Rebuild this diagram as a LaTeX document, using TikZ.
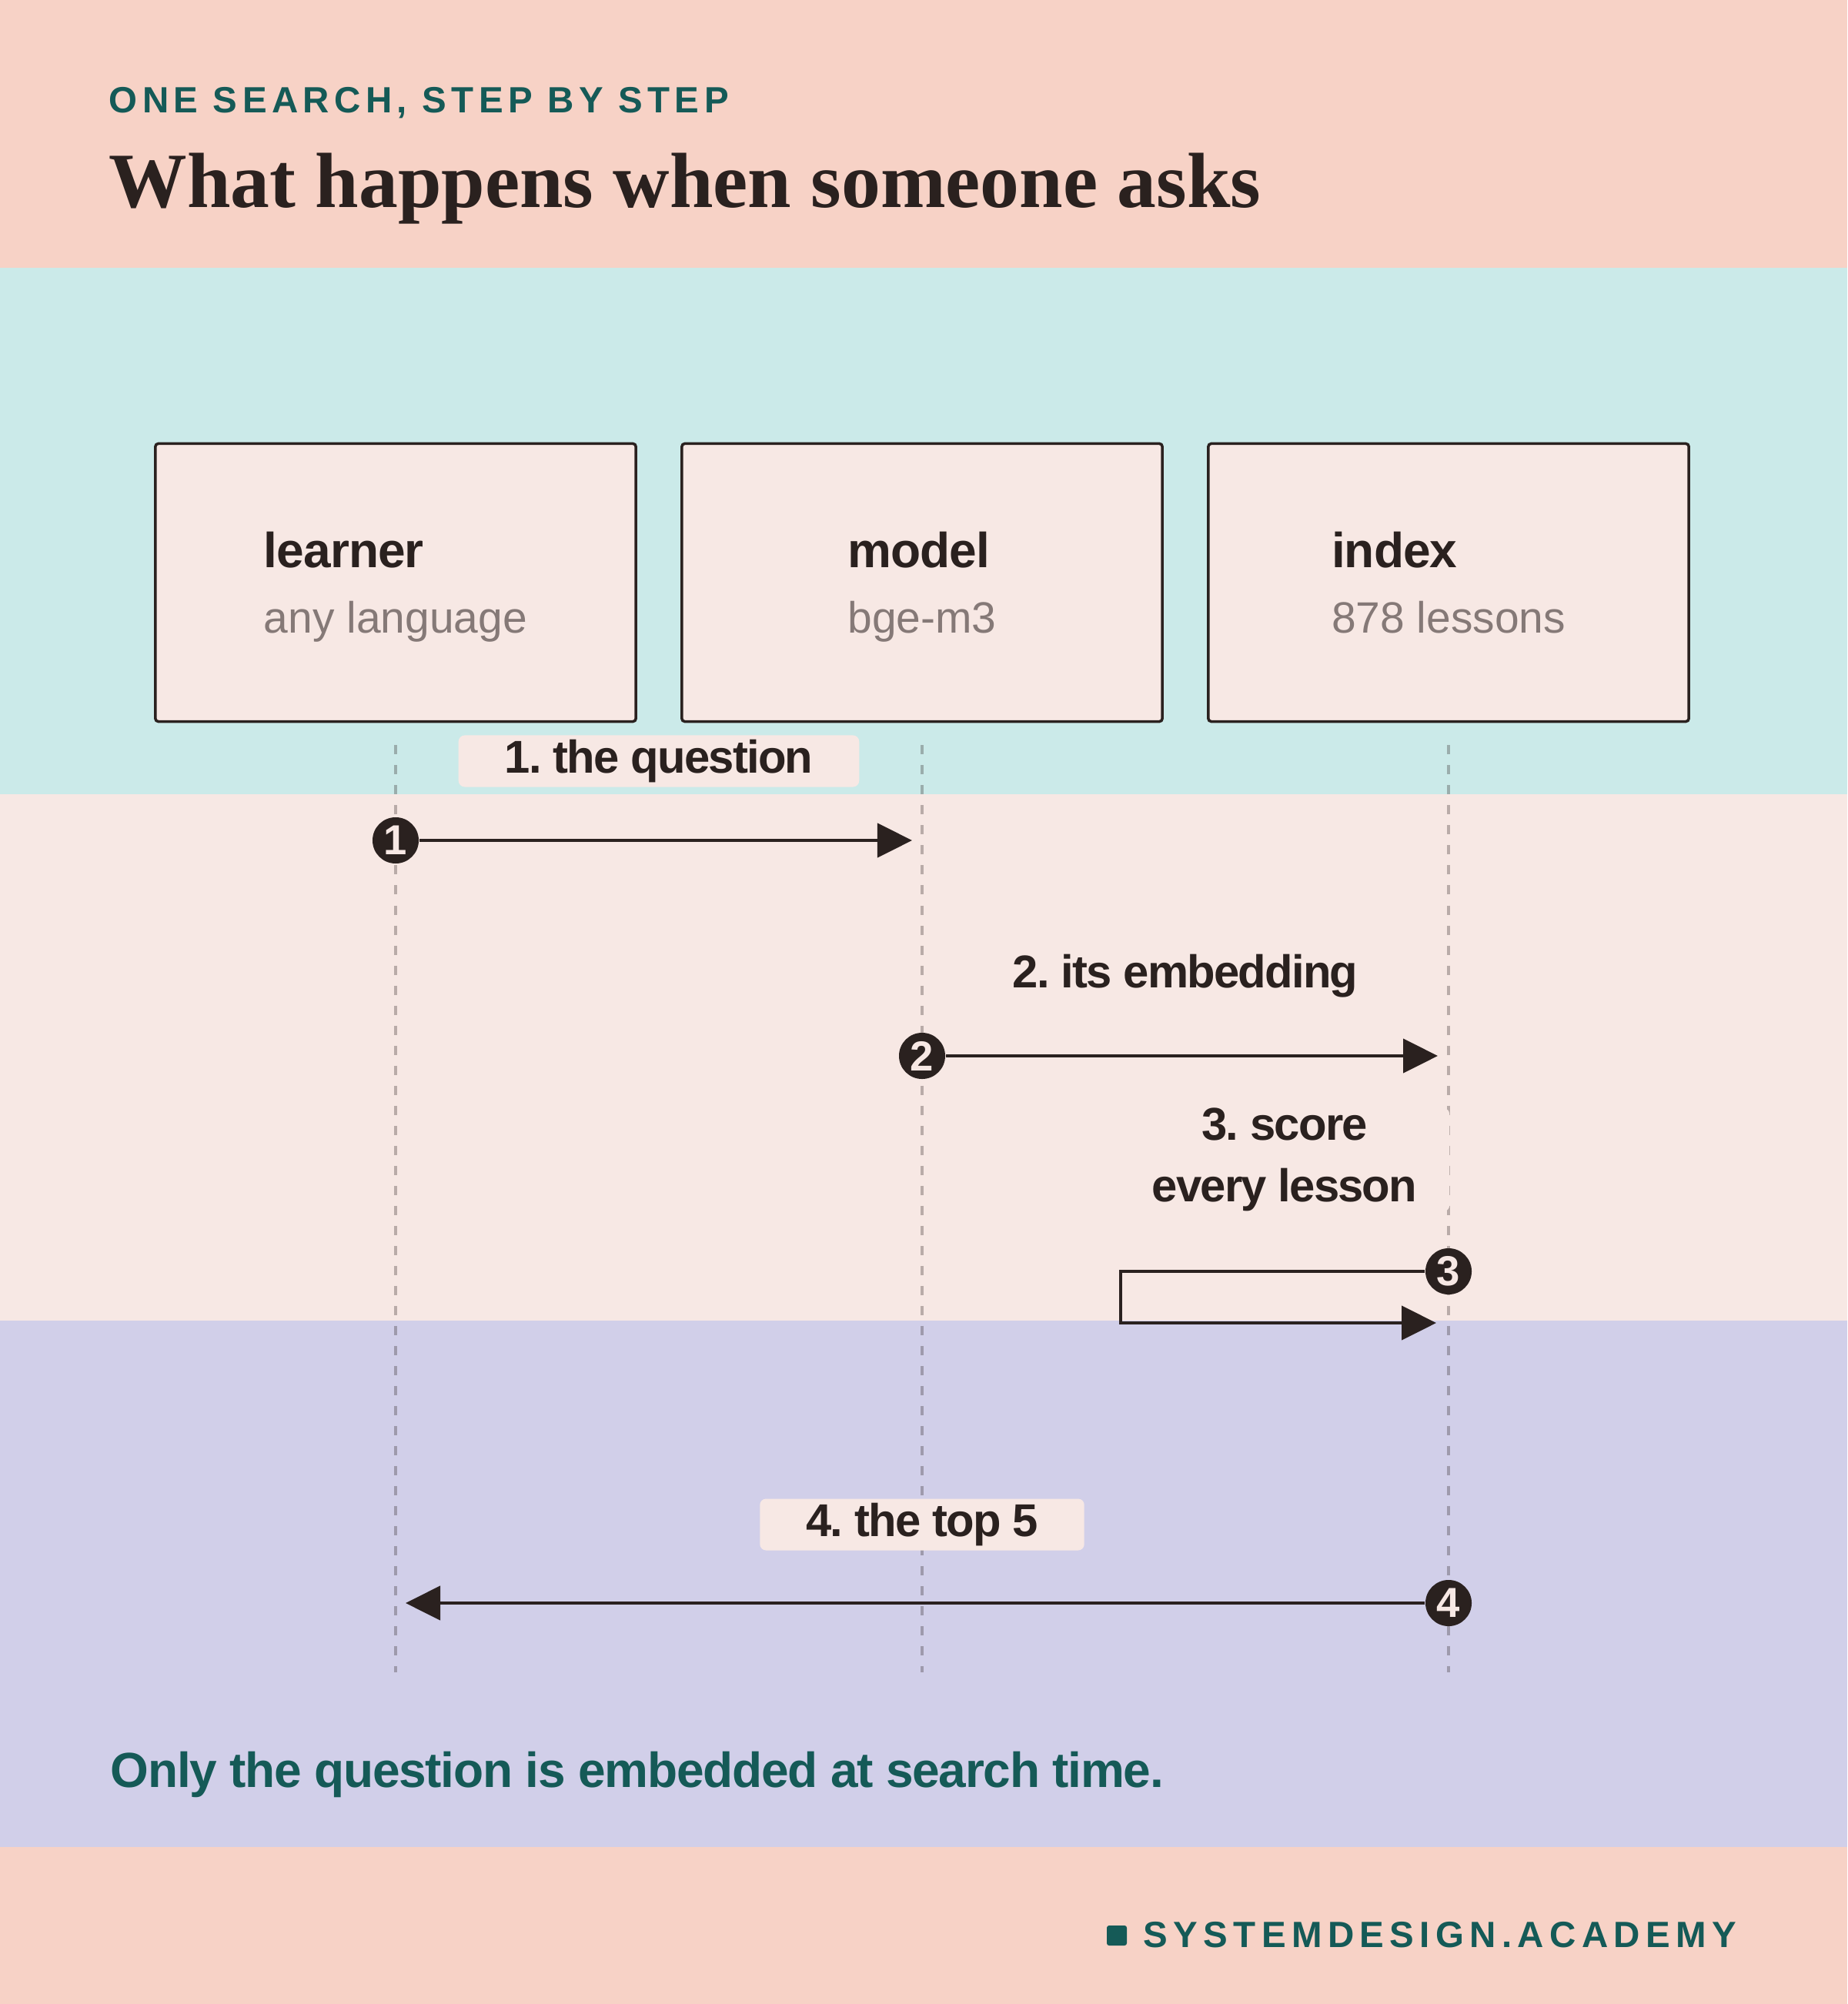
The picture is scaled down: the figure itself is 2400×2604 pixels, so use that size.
\documentclass[tikz,border=0pt]{standalone}
\usepackage{fontspec}
\setmainfont{Liberation Sans}
\newfontfamily\titlefont{Liberation Serif}
\usetikzlibrary{arrows.meta}

\definecolor{hdr}{HTML}{F7D2C6}
\definecolor{band1}{HTML}{CBEAE9}
\definecolor{band2}{HTML}{F7E8E4}
\definecolor{band3}{HTML}{D1CFE9}
\definecolor{ink}{HTML}{2A211F}
\definecolor{deepteal}{HTML}{155A57}
\definecolor{sub}{HTML}{857977}

\tikzset{
  actor/.style={draw=ink, line width=1pt, fill=band2, rounded corners=0.04cm,
    minimum width=6.24cm, minimum height=3.61cm, align=left, text=ink, text depth=0pt,
    font=\fontsize{16.2}{24.2}\selectfont},
  life/.style={draw=ink, draw opacity=0.3, line width=0.9pt, dash pattern=on 0.12cm off 0.14cm},
  msglabel/.style={fill=band2, rounded corners=0.08cm, inner xsep=0.6cm, inner ysep=0pt,
    minimum height=0.67cm, text=ink, align=center,
    font=\fontsize{17}{22.8}\selectfont\bfseries\addfontfeature{LetterSpace=-3}},
  badge/.style={circle, fill=ink, text=band2, minimum size=0.6cm, inner sep=0pt,
    font=\fontsize{15.5}{16}\selectfont\bfseries},
  msg/.style={draw=ink, line width=1.25pt, -{Triangle[length=0.45cm,width=0.44cm]}},
  plain/.style={anchor=base west, inner sep=0pt}
}

\begin{document}
\begin{tikzpicture}[x=0.01cm, y=-0.01cm]
  \useasboundingbox (0,0) rectangle (2400,2604);

  \foreach \c/\a/\b in {hdr/0/348, band1/348/1032, band2/1032/1716, band3/1716/2400, hdr/2400/2604}
    \fill[\c] (0,\a) rectangle (2400,\b);

  \node[plain, text=deepteal, font=\fontsize{13.5}{16}\selectfont\bfseries\addfontfeature{LetterSpace=13.5}]
    (kicker) at (141,147) {ONE SEARCH, STEP BY STEP};
  \node[plain, text=ink, font=\titlefont\fontsize{28.9}{34}\selectfont\bfseries]
    (title) at (141,270) {What happens when someone asks};

  \coordinate (foot) at (0,2173);

  \foreach \n/\x/\s in {learner/514/any language, model/1198/bge-m3, index/1882/878 lessons} {
    \node[actor] (\n) at (\x,757)
      {{\fontsize{18.2}{24.2}\selectfont\bfseries\addfontfeature{LetterSpace=-1.5}\n}\\{\color{sub}\s}};
    \draw[life] ([yshift=-0.29cm]\n.south) -- (\n.south |- foot);
  }

  \node[msglabel] (l1) at (856,989) {1.\hspace{-0.08em} the question};
  \node[msglabel] (l2) at (1540,1268) {2.\hspace{-0.08em} its embedding};
  \node[msglabel, inner xsep=0.42cm] (l3) at (1669,1507) {3.\hspace{-0.08em} score\\every lesson};
  \node[msglabel] (l4) at (1198,1981) {4.\hspace{-0.08em} the top 5};

  \node[badge] (c1) at (514,1092) {1};
  \node[badge] (c2) at (1198,1372) {2};
  \node[badge] (c3) at (1882,1652) {3};
  \node[badge] (c4) at (1882,2083) {4};

  \coordinate (t1) at (1185,1092);
  \coordinate (t2) at (1868,1372);
  \coordinate (k3) at (1456,1719);
  \coordinate (t3) at (1866,1719);
  \coordinate (t4) at (527,2083);

  \draw[msg] (c1) -- (t1);
  \draw[msg] (c2) -- (t2);
  \draw[msg] (c3) -| (k3) -- (t3);
  \draw[msg] (c4) -- (t4);

  \node[plain, text=deepteal, font=\fontsize{18.2}{22}\selectfont\bfseries\addfontfeature{LetterSpace=-2}]
    (note) at (143,2322) {Only the question is embedded at search time.};

  \node[fill=deepteal, rounded corners=0.03cm, minimum size=0.26cm, inner sep=0pt] (mark) at (1451,2515) {};
  \node[plain, text=deepteal, font=\fontsize{13.5}{16}\selectfont\bfseries\addfontfeature{LetterSpace=15.5}]
    (site) at (1485,2530) {SYSTEMDESIGN.ACADEMY};
\end{tikzpicture}
\end{document}
